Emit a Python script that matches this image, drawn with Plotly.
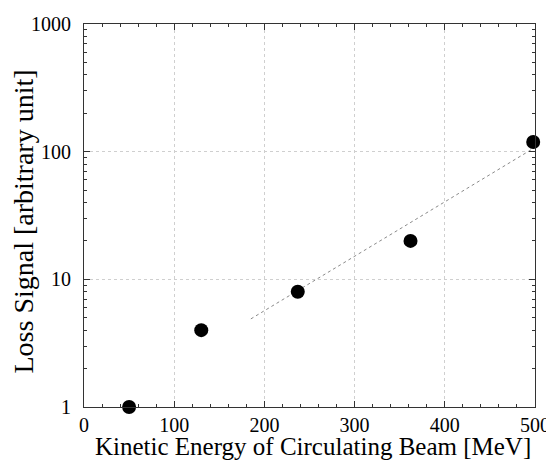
import plotly.graph_objects as go

# Data
energy_mev = [50, 130, 237, 362, 498]
loss_signal = [1.0, 4.0, 8.0, 20.0, 119.0]

# Fit line endpoints (visual estimate)
fit_energy = [185, 500]
fit_signal = [4.9, 108.0]

x_ticks = [0, 100, 200, 300, 400, 500]
y_ticks = [1, 10, 100, 1000]
y_tick_labels = ["1", "10", "100", "1000"]

FONT = "Liberation Serif"
PAGE_OFFSET = 8  # default body margin of the html page

fig = go.Figure()
fig.add_trace(go.Scatter(
    x=fit_energy, y=fit_signal, mode="lines",
    line=dict(color="#8a8a8a", width=1, dash="dot"),
    showlegend=False, hoverinfo="skip"))
fig.add_trace(go.Scatter(
    x=energy_mev, y=loss_signal, mode="markers",
    marker=dict(color="black", size=14),
    showlegend=False, cliponaxis=False))

axis_common = dict(
    showline=True, linecolor="#333333", linewidth=1, mirror="allticks",
    ticks="inside", tickcolor="#333333", ticklen=6,
    tickfont=dict(family=FONT, size=20, color="black"),
    showgrid=True, gridcolor="#cfcfcf", griddash="dot", gridwidth=1,
    zeroline=False, automargin=False,
)

fig.update_xaxes(
    range=[0, 500], tickvals=x_ticks, ticklabelstandoff=0,
    minor=dict(ticks="inside", ticklen=3, dtick=20, tickcolor="#333333", showgrid=False),
    **axis_common)
fig.update_yaxes(
    type="log", range=[0, 3], tickvals=y_ticks, ticktext=y_tick_labels,
    ticklabelstandoff=8,
    minor=dict(ticks="inside", ticklen=3, tickcolor="#333333", showgrid=False,
               tickvals=[m * d for d in (1, 10, 100) for m in range(2, 10)]),
    **axis_common)

fig.update_layout(
    width=554 - PAGE_OFFSET, height=461 - PAGE_OFFSET,
    margin=dict(l=84 - PAGE_OFFSET, r=19, t=24 - PAGE_OFFSET, b=54),
    paper_bgcolor="white", plot_bgcolor="white",
    font=dict(family=FONT, color="black"),
    annotations=[
        dict(text="Kinetic Energy of Circulating Beam [MeV]", xref="paper", yref="paper",
             x=0.5, y=0, xshift=3, yshift=-39, xanchor="center", yanchor="middle",
             showarrow=False, font=dict(family=FONT, size=25, color="black")),
        dict(text="Loss Signal [arbitrary unit]", xref="paper", yref="paper",
             x=0, y=0.5, xshift=-61, yshift=-6, xanchor="center", yanchor="middle",
             textangle=-90, showarrow=False,
             font=dict(family=FONT, size=28, color="black")),
    ],
)

fig.write_html("out.html")
